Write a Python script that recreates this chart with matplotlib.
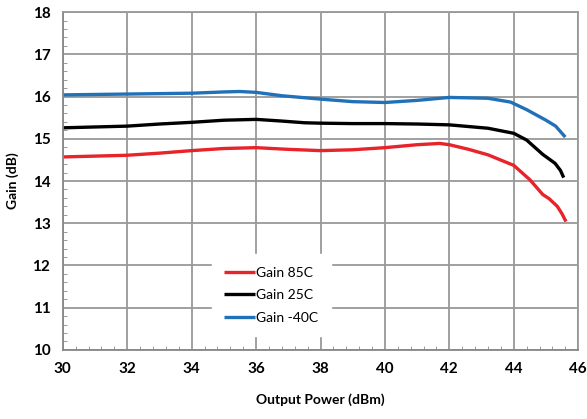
import numpy as np
import matplotlib.pyplot as plt
from matplotlib.ticker import MultipleLocator

# --- data ---
pout_85 = [30.0, 31.0, 32.0, 33.0, 34.0, 35.0, 36.0, 37.0, 38.0, 39.0, 40.0, 41.0, 41.7, 42.0,
           42.6, 43.2, 44.0, 44.5, 44.9, 45.1, 45.35, 45.5, 45.62]
gain_85 = [14.57, 14.59, 14.61, 14.66, 14.72, 14.77, 14.79, 14.75, 14.72, 14.74, 14.79, 14.86, 14.89, 14.86,
           14.75, 14.62, 14.37, 14.03, 13.68, 13.58, 13.40, 13.22, 13.04]

pout_25 = [30.0, 31.0, 32.0, 33.0, 34.0, 35.0, 36.0, 36.8, 37.5, 38.0, 39.0, 40.0, 41.0, 42.0,
           43.2, 44.0, 44.4, 44.9, 45.28, 45.45, 45.55]
gain_25 = [15.26, 15.28, 15.30, 15.35, 15.39, 15.44, 15.46, 15.42, 15.38, 15.37, 15.36, 15.36, 15.35, 15.33,
           15.25, 15.13, 14.97, 14.63, 14.42, 14.25, 14.08]

pout_m40 = [30.0, 31.0, 32.0, 33.0, 34.0, 35.0, 35.5, 36.0, 36.8, 38.0, 39.0, 40.0, 41.0, 42.0,
            43.2, 43.9, 44.4, 45.0, 45.3, 45.6]
gain_m40 = [16.04, 16.05, 16.06, 16.07, 16.08, 16.11, 16.12, 16.10, 16.02, 15.94, 15.88, 15.86, 15.91, 15.98,
            15.96, 15.87, 15.69, 15.44, 15.30, 15.04]

labels = ['Gain 85C', 'Gain 25C', 'Gain -40C']
colors = ['#e8232a', '#000000', '#2171b9']

plt.rcParams['font.family'] = ['Lato', 'DejaVu Sans']

fig = plt.figure(figsize=(5.87, 4.19), dpi=100)
ax = fig.add_axes([0.107, 0.165, 0.878, 0.806])

for x, y, lab, c in zip([pout_85, pout_25, pout_m40], [gain_85, gain_25, gain_m40], labels, colors):
    ax.plot(x, y, color=c, linewidth=2.4, label=lab, solid_capstyle='butt', solid_joinstyle='round')

ax.set_xlim(30, 46)
ax.set_ylim(10, 18)
ax.xaxis.set_major_locator(MultipleLocator(2))
ax.xaxis.set_minor_locator(MultipleLocator(0.4))
ax.yaxis.set_major_locator(MultipleLocator(1))
ax.yaxis.set_minor_locator(MultipleLocator(0.2))
ax.grid(True, which='major', color='#999999', linewidth=1.3)
ax.set_axisbelow(True)

for s in ax.spines.values():
    s.set_color('#999999')
    s.set_linewidth(1.3)
ax.spines['left'].set_color('#888888')
ax.spines['bottom'].set_color('#888888')

ax.tick_params(which='major', length=0, labelsize=11, pad=9)
ax.tick_params(which='minor', direction='in', length=3, color='#888888', top=False, right=False)
for t in ax.get_xticklabels() + ax.get_yticklabels():
    t.set_fontweight('bold')

ax.set_xlabel('Output Power (dBm)', fontsize=10, fontweight='bold', labelpad=12)
ax.set_ylabel('Gain (dB)', fontsize=10, fontweight='bold', labelpad=10)

leg = ax.legend(loc='lower left', bbox_to_anchor=(0.276, 0.02, 0.24, 0.255),
                frameon=True, fancybox=False, edgecolor='white', framealpha=1.0,
                fontsize=10, handlelength=2.2, handletextpad=0.1, labelspacing=0.75,
                borderpad=0.9)

fig.savefig('out.png', dpi=100, facecolor='white')
